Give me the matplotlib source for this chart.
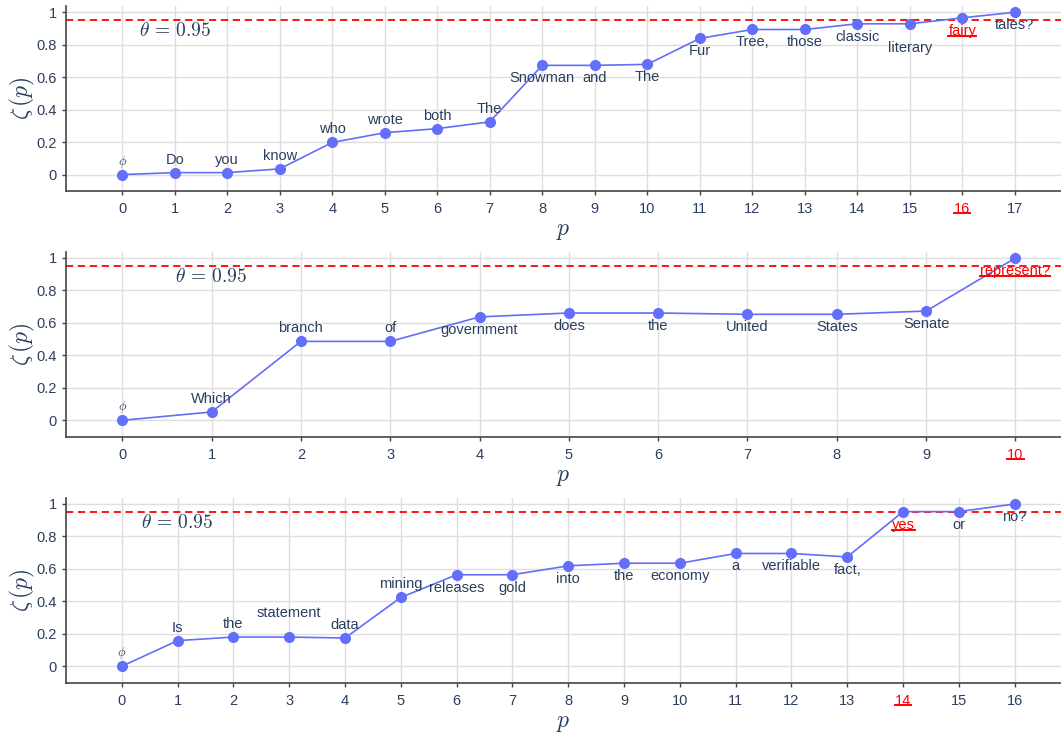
import matplotlib
matplotlib.use("Agg")
import matplotlib.pyplot as plt
from matplotlib.lines import Line2D

plt.rcParams["font.family"] = ["Liberation Sans", "DejaVu Sans"]
plt.rcParams["mathtext.fontset"] = "cm"

# token sequences and their zeta(p) scores
words1 = ["$\\phi$", "Do", "you", "know", "who", "wrote", "both", "The", "Snowman", "and",
          "The", "Fur", "Tree,", "those", "classic", "literary", "fairy", "tales?"]
zeta1 = [0, 0.012, 0.012, 0.035, 0.198, 0.258, 0.283, 0.325, 0.673, 0.673,
         0.679, 0.839, 0.894, 0.894, 0.929, 0.929, 0.966, 1.0]

words2 = ["$\\phi$", "Which", "branch", "of", "government", "does", "the", "United",
          "States", "Senate", "represent?"]
zeta2 = [0, 0.051, 0.486, 0.486, 0.637, 0.661, 0.661, 0.653, 0.653, 0.673, 1.0]

words3 = ["$\\phi$", "Is", "the", "statement", "data", "mining", "releases", "gold", "into",
          "the", "economy", "a", "verifiable", "fact,", "yes", "or", "no?"]
zeta3 = [0, 0.158, 0.180, 0.180, 0.174, 0.424, 0.564, 0.564, 0.619,
         0.635, 0.635, 0.695, 0.695, 0.674, 0.953, 0.953, 1.0]

stop_idx = [16, 10, 14]
theta = 0.95

# label side: +1 above the point, -1 below, 2 = one more line away
sides1 = [1] * 8 + [-1] * 7 + [-2, -1, -1]
sides2 = [1] * 4 + [-1] * 7
sides3 = [1, 1, 1, 2, 1, 1] + [-1] * 11

TXT = "#2a3f5f"
BLUE = "#636efa"
RED = "#ff0000"

W, H = 1061, 738
fig = plt.figure(figsize=(W / 100, H / 100), dpi=100)

panels = [
    (words1, zeta1, sides1, stop_idx[0], 5.8, (-1.07, 17.88)),
    (words2, zeta2, sides2, stop_idx[1], 251.5, (-0.63, 10.51)),
    (words3, zeta3, sides3, stop_idx[2], 497.5, (-1.0, 16.83)),
]

underline = []
for words, zeta, sides, hi, top, xlim in panels:
    h = 185.0
    ax = fig.add_axes([66 / W, 1 - (top + h) / H, (W - 66) / W, h / H])
    xs = list(range(len(words)))
    ax.set_xlim(*xlim)
    ax.set_ylim(-0.1, 1.04)
    ax.set_xticks(xs)
    ax.set_yticks([0, 0.2, 0.4, 0.6, 0.8, 1])
    ax.set_yticklabels(["0", "0.2", "0.4", "0.6", "0.8", "1"])
    ax.grid(True, color="#dedede", linewidth=1.0)
    ax.set_axisbelow(True)
    for s in ("top", "right"):
        ax.spines[s].set_visible(False)
    for s in ("left", "bottom"):
        ax.spines[s].set_color("#444444")
        ax.spines[s].set_linewidth(1.2)
    ax.tick_params(colors="#444444", labelcolor=TXT, labelsize=10.5, length=3, width=1)
    ax.tick_params(axis="x", pad=5)

    ax.axhline(theta, color=RED, linestyle=(0, (4, 2.6)), linewidth=1.3, zorder=1)
    ax.plot(xs, zeta, color=BLUE, linewidth=1.2, marker="o", markersize=7, zorder=3)
    ax.text(1, 0.885, "$\\theta\\,=\\,0.95$", color=TXT, fontsize=14, ha="center", va="center")

    for i, (w, z, sd) in enumerate(zip(words, zeta, sides)):
        off = 13 * sd if abs(sd) == 1 else 24.5 * (1 if sd > 0 else -1)
        if i == 0:
            t = ax.annotate(w, (i, z), xytext=(0, off), textcoords="offset pixels",
                            ha="center", va="center", color=TXT, fontsize=9)
        else:
            t = ax.annotate(w, (i, z), xytext=(0, off), textcoords="offset pixels",
                            ha="center", va="center", fontsize=10.5,
                            color=RED if i == hi else TXT)
        if i == hi:
            underline.append(t)

    ax.set_xlabel("$p$", fontsize=17, color=TXT, labelpad=3)
    ax.set_ylabel("$\\zeta\\,(p)$", fontsize=17, color=TXT, labelpad=0)
    ax.get_xticklabels()[hi].set_color(RED)
    underline.append(("tick", ax, hi))

# underline the stopping token and its tick label
fig.canvas.draw()
renderer = fig.canvas.get_renderer()
inv = fig.transFigure.inverted()
for item in underline:
    if isinstance(item, tuple):
        _, ax, hi = item
        t = ax.get_xticklabels()[hi]
        y_adj = 2.5
    else:
        t = item
        y_adj = 1.5
    bb = t.get_window_extent(renderer)
    y = bb.y0 + y_adj
    (x0, y0), (x1, _) = inv.transform([(bb.x0, y), (bb.x1, y)])
    fig.add_artist(Line2D([x0, x1], [y0, y0], color=RED, linewidth=1.4))

fig.savefig("out.png", dpi=100)
